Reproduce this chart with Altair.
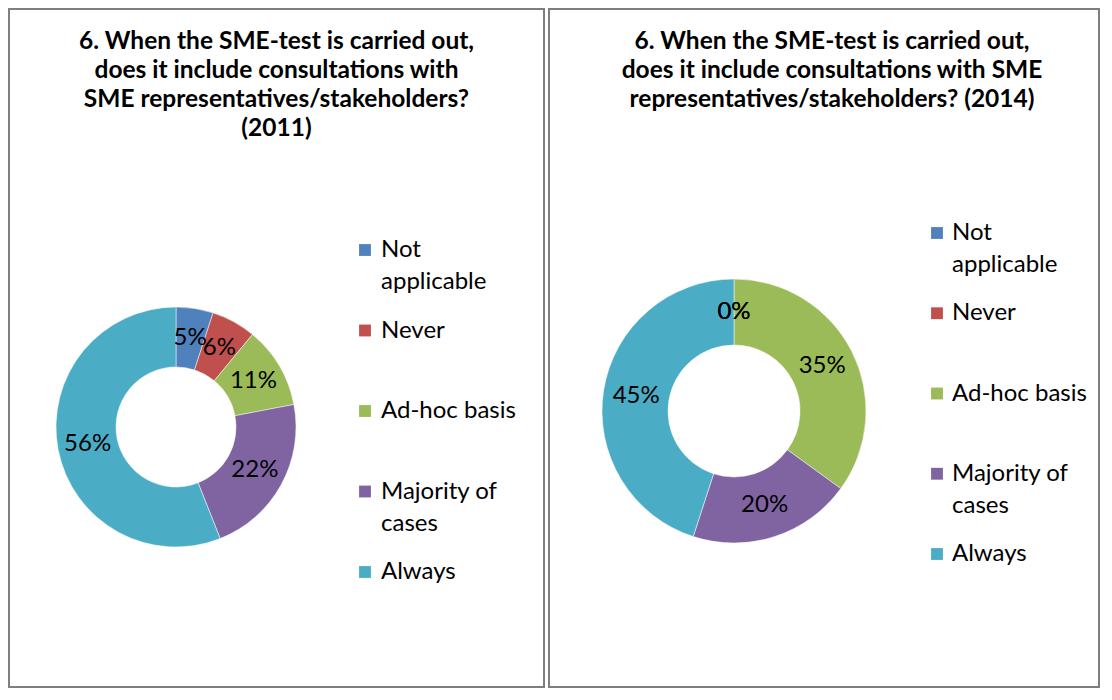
import altair as alt
import pandas as pd

categories = ["Not applicable", "Never", "Ad-hoc basis", "Majority of cases", "Always"]
legend_left = ["Not\napplicable", "Never", "Ad-hoc basis", "Majority of\ncases", "Always"]
legend_right = ["Not\napplicable", "Never", "Ad-hoc basis", "Majority of\ncases", "Always"]
values_2011 = [5, 6, 11, 22, 56]
values_2014 = [0, 0, 35, 20, 45]
colors = ["#4F81BD", "#C0504D", "#9BBB59", "#8064A2", "#4BACC6"]
title_2011 = ["6. When the SME-test is carried out,",
              "does it include consultations with",
              "SME representatives/stakeholders?",
              "(2011)"]
title_2014 = ["6. When the SME-test is carried out,",
              "does it include consultations with SME",
              "representatives/stakeholders? (2014)"]

FONT = "Lato"


def panel(values, legend_labels, title, w, h, cx, cy, r_in, r_out,
          leg_sq_x, leg_tx_x, leg_y0, leg_y1, title_dx, title_off):
    df = pd.DataFrame({
        "cat": categories,
        "value": values,
        "order": list(range(len(categories))),
        "legend": legend_labels,
    })
    color = alt.Color("cat:N", scale=alt.Scale(domain=categories, range=colors), legend=None)
    base = alt.Chart(df).transform_calculate(label="datum.value + '%'")
    arcs = base.mark_arc(innerRadius=r_in, outerRadius=r_out, stroke="white", strokeWidth=0.5).encode(
        theta=alt.Theta("value:Q", stack=True),
        order=alt.Order("order:Q"),
        color=color,
        x=alt.value(cx), y=alt.value(cy),
    )
    labels = base.mark_text(radius=(r_in + r_out) / 2, font=FONT, fontSize=24, color="black").encode(
        theta=alt.Theta("value:Q", stack=True),
        order=alt.Order("order:Q"),
        text="label:N",
        x=alt.value(cx), y=alt.value(cy),
    )
    yleg = alt.Y("cat:N", sort=categories, axis=None,
                 scale=alt.Scale(type="point", range=[leg_y0, leg_y1], padding=0))
    squares = base.mark_square(size=140, opacity=1).encode(
        y=yleg, x=alt.value(leg_sq_x), color=color,
    )
    ltext = base.mark_text(align="left", baseline="top", dy=-12, lineBreak="\n",
                           lineHeight=32, font=FONT, fontSize=24, color="black").encode(
        y=yleg, x=alt.value(leg_tx_x), text="legend:N",
    )
    return alt.layer(arcs, labels, squares, ltext).properties(
        width=w, height=h,
        title=alt.TitleParams(title, anchor="middle", frame="group", orient="top",
                              offset=title_off, dx=title_dx,
                              font=FONT, fontSize=24.5, fontWeight="bold",
                              lineHeight=29, color="black"),
    )


left = panel(values_2011, legend_left, title_2011, 535, 678, 167, 418, 60, 120,
             356, 372, 241, 563, 0, -132)
right = panel(values_2014, legend_right, title_2014, 550, 678, 185, 402, 66, 132,
              388, 403, 224, 545, 8, -103)

chart = alt.hconcat(left, right, spacing=3).configure(
    padding=0, background="white"
).configure_view(stroke="#7f7f7f", strokeWidth=2, fill="white")

chart.save("out.html", embed_options={"renderer": "svg", "actions": False})
